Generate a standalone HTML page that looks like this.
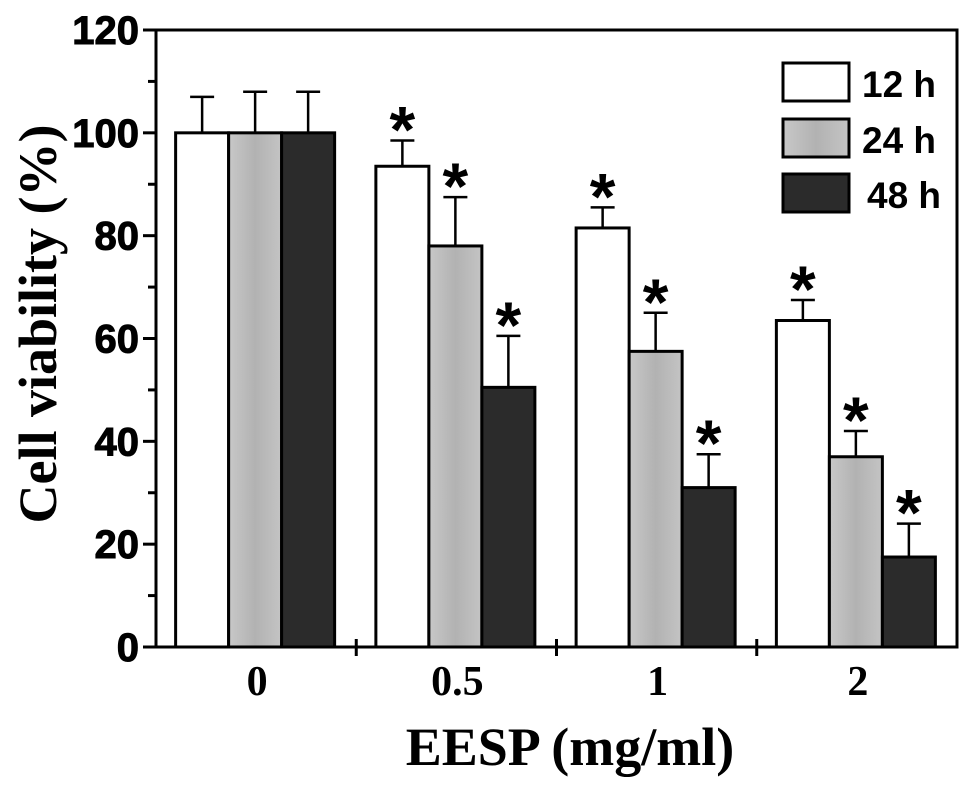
<!DOCTYPE html>
<html><head><meta charset="utf-8"><style>
html,body{margin:0;padding:0;background:#fff;}
svg{display:block;}
</style></head><body>
<svg id="chart" width="969" height="790" viewBox="0 0 969 790">
<defs>
<linearGradient id="gGray" x1="0" x2="1" y1="0" y2="0">
<stop offset="0" stop-color="#c8c8c8"/><stop offset="0.5" stop-color="#b2b2b2"/><stop offset="1" stop-color="#c4c4c4"/>
</linearGradient>
</defs>
<g id="plot"></g>
</svg>
<script>
const categories = ["0", "0.5", "1", "2"];
const seriesNames = ["12 h", "24 h", "48 h"];
const values12 = [100, 93.5, 81.5, 63.5];
const values24 = [100, 78, 57.5, 37];
const values48 = [100, 50.5, 31, 17.5];
const err12 = [7, 5, 4, 4];
const err24 = [8, 9.5, 7.5, 5];
const err48 = [8, 10, 6.5, 6.5];
const sig12 = [false, true, true, true];
const sig24 = [false, true, true, true];
const sig48 = [false, true, true, true];
const yTicks = [0, 20, 40, 60, 80, 100, 120];

const NS = "http://www.w3.org/2000/svg";
const g = document.getElementById("plot");
const X0 = 156, X1 = 957, Y0 = 647, Y1 = 30, YMAX = 120;
const y = v => Y0 - (v / YMAX) * (Y0 - Y1);
const groupW = (X1 - X0) / categories.length;
const barW = 53;
const xc = i => X0 + groupW * (i + 0.5) - 1;
function el(tag, attrs) { const e = document.createElementNS(NS, tag); for (const k in attrs) e.setAttribute(k, attrs[k]); g.appendChild(e); return e; }

let f = el("rect", {x: X0, y: Y1, width: X1 - X0, height: Y0 - Y1, fill: "none", stroke: "#000", "stroke-width": 3});



const series = [
  {name: seriesNames[0], vals: values12, errs: err12, sig: sig12, fill: "#fff"},
  {name: seriesNames[1], vals: values24, errs: err24, sig: sig24, fill: "url(#gGray)"},
  {name: seriesNames[2], vals: values48, errs: err48, sig: sig48, fill: "#2b2b2b"}
];
series.forEach((s, si) => {
  categories.forEach((c, i) => {
    const left = xc(i) - 1.5 * barW + si * barW;
    const top = y(s.vals[i]);
    const b = el("rect", {x: left, y: top, width: barW, height: Y0 - top, fill: s.fill, stroke: "#000", "stroke-width": 3});
    
    
    const cx = left + barW / 2;
    const et = y(s.vals[i] + s.errs[i]);
    const e1 = el("line", {x1: cx, x2: cx, y1: top, y2: et, stroke: "#000", "stroke-width": 2.5});
    
    
    const e2 = el("line", {x1: cx - 12, x2: cx + 12, y1: et, y2: et, stroke: "#000", "stroke-width": 2.5});
    
    
    if (s.sig[i]) {
      const t = el("text", {x: cx, y: et + 12, "text-anchor": "middle", "font-family": "Liberation Sans, sans-serif", "font-weight": "bold", "font-size": 66});
      t.textContent = "*";
      
      
    }
  });
});

yTicks.forEach(v => {
  const l = el("line", {x1: X0 - 13, x2: X0, y1: y(v), y2: y(v), stroke: "#000", "stroke-width": 3});
  
  
  const t = el("text", {x: 139, y: y(v) + 14, "text-anchor": "end", "font-family": "Liberation Sans, sans-serif", "font-weight": "bold", "font-size": 40, stroke: "#000", "stroke-width": 1});
  t.textContent = v;
  
  
  if (v < YMAX) {
    const m = el("line", {x1: X0 - 8, x2: X0, y1: y(v + 10), y2: y(v + 10), stroke: "#000", "stroke-width": 3});
    
    
  }
});
for (let i = 1; i < categories.length; i++) {
  const xx = X0 + groupW * i;
  const l = el("line", {x1: xx, x2: xx, y1: Y0 - 8, y2: Y0 + 9, stroke: "#000", "stroke-width": 3});
  
  
}
categories.forEach((c, i) => {
  const t = el("text", {x: xc(i) + 2, y: 695, "text-anchor": "middle", "font-family": "Liberation Serif, serif", "font-weight": "bold", "font-size": 42});
  t.textContent = c;
  
  
});

const legY = [63, 119, 174];
series.forEach((s, si) => {
  const r = el("rect", {x: 783, y: legY[si], width: 66, height: 38, fill: s.fill, stroke: "#000", "stroke-width": 3});
  
  
  const t = el("text", {x: si === 2 ? 867 : 862, y: legY[si] + 34, "font-family": "Liberation Sans, sans-serif", "font-weight": "bold", "font-size": 37});
  t.textContent = s.name;
  
  
});

const yt = el("text", {x: 0, y: 0, transform: "translate(56,324) rotate(-90)", "text-anchor": "middle", "font-family": "Liberation Serif, serif", "font-weight": "bold", "font-size": 54});
yt.textContent = "Cell viability (%)";


const xt = el("text", {x: 570, y: 765, "text-anchor": "middle", "font-family": "Liberation Serif, serif", "font-weight": "bold", "font-size": 54});
xt.textContent = "EESP (mg/ml)";


</script>
</body></html>
